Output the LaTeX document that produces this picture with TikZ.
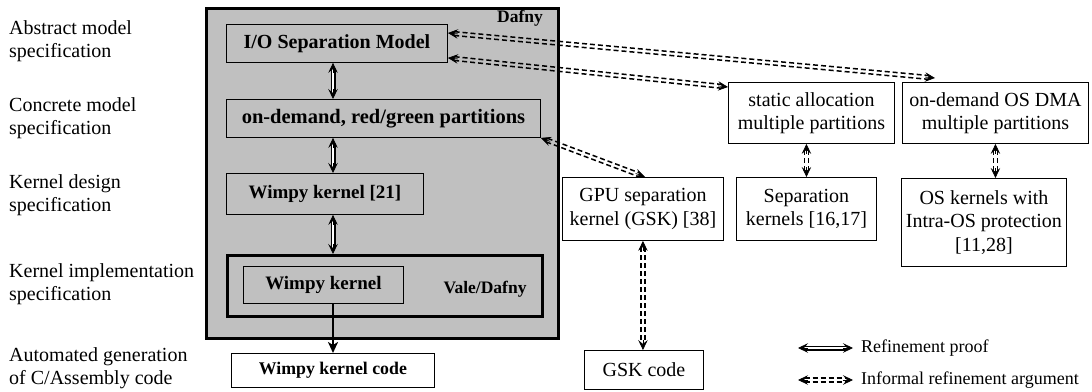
\documentclass[tikz,border=0pt]{standalone}
\usepackage{fontspec}
\setmainfont{Liberation Serif}
\usetikzlibrary{arrows.meta,calc}
\definecolor{dgray}{RGB}{192,192,192}
\tikzset{
  box/.style={draw, line width=0.9pt, inner sep=0pt, align=center, anchor=north west},
  lbl/.style={anchor=west, align=left, inner sep=0pt, font=\fontsize{20}{23}\selectfont},
  reg/.style={font=\fontsize{20}{23.5}\selectfont},
  ddl/.style={line width=1.5pt, dash pattern=on 5pt off 3pt},
  ddtip/.style={line width=0.7pt, -{Stealth[length=10pt,width=9.5pt,inset=4pt]}},
  dsl/.style={double=white, double distance=2.6pt, line width=1.2pt},
}
\newcommand\dblDash[2]{%
  \coordinate (ddA) at (#1);
  \coordinate (ddB) at (#2);
  \coordinate (ddA2) at ($(ddA)!6.5pt!(ddB)$);
  \coordinate (ddB2) at ($(ddB)!6.5pt!(ddA)$);
  \draw[ddl] ($(ddA2)!1.9pt!90:(ddB2)$) -- ($(ddB2)!1.9pt!-90:(ddA2)$);
  \draw[ddl] ($(ddA2)!1.9pt!-90:(ddB2)$) -- ($(ddB2)!1.9pt!90:(ddA2)$);
  \draw[ddtip] ($(ddA)!10pt!(ddB)$) -- (ddA);
  \draw[ddtip] ($(ddB)!10pt!(ddA)$) -- (ddB);
}
\newcommand\dblSolid[2]{%
  \coordinate (dsA) at (#1);
  \coordinate (dsB) at (#2);
  \draw[dsl, shorten <=6.5pt, shorten >=6.5pt] (dsA) -- (dsB);
  \draw[ddtip] ($(dsA)!10pt!(dsB)$) -- (dsA);
  \draw[ddtip] ($(dsB)!10pt!(dsA)$) -- (dsB);
}
\begin{document}
\begin{tikzpicture}[x=1pt, y=-1pt]
\useasboundingbox (0,0) rectangle (1092,391);
% left labels
\node[lbl] (l1) at (9,41) {Abstract model\\specification};
\node[lbl] (l2) at (9,118) {Concrete model\\specification};
\node[lbl] (l3) at (9,195) {Kernel design\\specification};
\node[lbl] (l4) at (9,284) {Kernel implementation\\specification};
\node[lbl] (l5) at (9,368) {Automated generation\\of C/Assembly code};
% Dafny region
\node[box, fill=dgray, line width=3pt, minimum width=352pt, minimum height=330pt] (dafny) at (205,7) {};
\node[font=\bfseries\fontsize{17.5}{20}\selectfont, inner sep=0pt] (dafnyl) at (520,18) {Dafny};
\node[box, minimum width=221pt, minimum height=38pt, font=\bfseries\fontsize{20}{23}\selectfont] (io) at (226,24) {I/O Separation Model};
\node[box, minimum width=314pt, minimum height=38pt, font=\bfseries\fontsize{20.5}{23}\selectfont] (od) at (226,99) {on-demand, red/green partitions};
\node[box, minimum width=197pt, minimum height=41pt, font=\bfseries\fontsize{19}{23}\selectfont] (wk21) at (226,173) {Wimpy kernel [21]};
\node[box, line width=3pt, minimum width=315pt, minimum height=61pt] (vale) at (226,254) {};
\node[box, minimum width=160pt, minimum height=37pt, font=\bfseries\fontsize{19}{23}\selectfont] (wk) at (243,266) {Wimpy kernel};
\node[font=\bfseries\fontsize{17.5}{20}\selectfont, inner sep=0pt] (valel) at (485,289) {Vale/Dafny};
\node[box, minimum width=203pt, minimum height=34pt, font=\bfseries\fontsize{17.8}{23}\selectfont] (wkc) at (231,353) {Wimpy kernel code};
% right side
\node[box, reg, minimum width=166pt, minimum height=61pt] (static) at (728,82) {static allocation\\multiple partitions};
\node[box, reg, minimum width=186pt, minimum height=61pt] (dma) at (902,82) {on-demand OS DMA\\multiple partitions};
\node[box, reg, minimum width=161pt, minimum height=63pt] (gpu) at (562,177) {GPU separation\\kernel (GSK) [38]};
\node[box, reg, minimum width=140pt, minimum height=63pt] (sep) at (736,177) {Separation\\kernels [16,17]};
\node[box, reg, minimum width=165pt, minimum height=88pt] (osk) at (901,178) {OS kernels with\\Intra-OS protection\\{[11,28]}};
\node[box, reg, minimum width=119pt, minimum height=39pt] (gskc) at (584,350) {GSK code};
% solid refinement arrows
\coordinate (ax) at (333,0);
\dblSolid{io.south -| ax}{od.north -| ax}
\dblSolid{od.south -| ax}{wk21.north -| ax}
\dblSolid{wk21.south -| ax}{vale.north -| ax}
\draw[line width=2pt, -{Stealth[length=11pt,width=10pt,inset=3pt]}] (wk.south -| ax) -- (wkc.north -| ax);
% informal arrows
\dblDash{$(io.north east)+(0,9)$}{$(dma.north west)+(33,-4)$}
\dblDash{$(io.south east)+(0,-5)$}{$(static.north west)+(0,5)$}
\dblDash{od.south east}{$(gpu.north west)+(83,0)$}
\dblDash{gpu.south}{gpu.south |- gskc.north}
\dblDash{sep.north |- static.south}{sep.north}
\dblDash{dma.south}{dma.south |- osk.north}
% legend
\coordinate (lga) at (798,348);
\coordinate (lgb) at (853,348);
\coordinate (lgc) at (798,380);
\coordinate (lgd) at (853,380);
\dblSolid{lga}{lgb}
\dblDash{lgc}{lgd}
\node[anchor=west, inner sep=0pt, font=\fontsize{18}{21}\selectfont] (lt1) at (861,348) {Refinement proof};
\node[anchor=west, inner sep=0pt, font=\fontsize{18}{21}\selectfont] (lt2) at (861,380) {Informal refinement argument};
\end{tikzpicture}
\end{document}
